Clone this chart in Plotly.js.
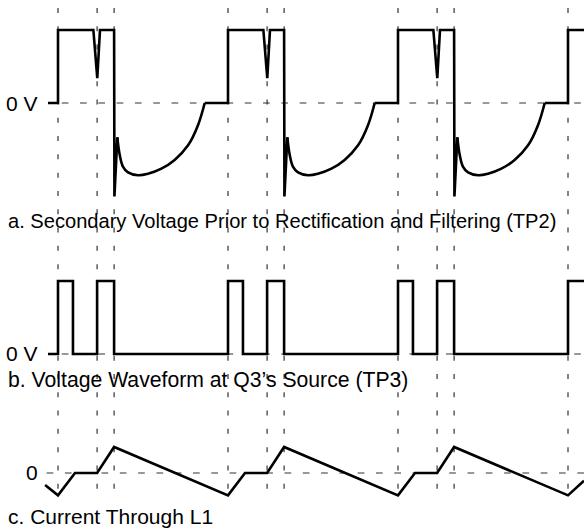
<!DOCTYPE html>
<html>
<head>
<meta charset="utf-8">
<script src="https://cdn.plot.ly/plotly-3.0.1.min.js"></script>
<style>
  html, body { margin: 0; padding: 0; background: #fff; }
  #chart { width: 584px; height: 531px; }
</style>
</head>
<body>
<div id="chart"></div>
<script>
// ---- Data (time in arbitrary units, one switching period = 10) ----
// a. Secondary voltage prior to rectification and filtering (TP2)
//    switching (straight) parts, null = gap where the curved recovery is drawn
var tA = [-0.59, 0, 0, 2.08, 2.31, 2.47, 3.3, 3.32, 3.49, null,
          8.63, 10, 10, 12.08, 12.31, 12.47, 13.3, 13.32, 13.49, null,
          18.63, 20, 20, 22.08, 22.31, 22.47, 23.3, 23.32, 23.49, null,
          28.63, 30, 30, 30.94];
var vA = [0, 0, 1, 1, 0.34, 1, 1, -1.28, -0.47, null,
          0, 0, 1, 1, 0.34, 1, 1, -1.28, -0.47, null,
          0, 0, 1, 1, 0.34, 1, 1, -1.28, -0.47, null,
          0, 0, 1, 1];
//    curved recovery after turn-off
var tAcurve = [3.49, 3.63, 3.82, 4.12, 4.71, 5.29, 6.08, 6.86, 7.65, 8.24, 8.63, null,
               13.49, 13.63, 13.82, 14.12, 14.71, 15.29, 16.08, 16.86, 17.65, 18.24, 18.63, null,
               23.49, 23.63, 23.82, 24.12, 24.71, 25.29, 26.08, 26.86, 27.65, 28.24, 28.63];
var vAcurve = [-0.47, -0.71, -0.87, -0.95, -0.99, -0.97, -0.90, -0.78, -0.58, -0.30, 0, null,
               -0.47, -0.71, -0.87, -0.95, -0.99, -0.97, -0.90, -0.78, -0.58, -0.30, 0, null,
               -0.47, -0.71, -0.87, -0.95, -0.99, -0.97, -0.90, -0.78, -0.58, -0.30, 0];

// b. Voltage waveform at Q3's source (TP3)
var tB = [-0.59, 0, 0, 0.88, 0.88, 2.3, 2.3, 3.3, 3.3,
          10, 10, 10.88, 10.88, 12.3, 12.3, 13.3, 13.3,
          20, 20, 20.88, 20.88, 22.3, 22.3, 23.3, 23.3,
          30, 30, 30.94];
var vB = [0, 0, 1, 1, 0, 0, 1, 1, 0,
          0, 1, 1, 0, 0, 1, 1, 0,
          0, 1, 1, 0, 0, 1, 1, 0,
          0, 1, 1];

// c. Current through L1
var tC = [-0.76, 0, 1.0, 2.3, 3.3, 10, 11.0, 12.3, 13.3, 20, 21.0, 22.3, 23.3, 30, 30.94];
var vC = [-0.46, -0.86, 0, 0, 1.0, -0.86, 0, 0, 1.0, -0.86, 0, 0, 1.0, -0.86, -0.30];

// switching edges (vertical reference lines)
var edges = [0, 2.3, 3.3, 10, 12.3, 13.3, 20, 22.3, 23.3, 30];

// zero reference lines [start, end]
var zeroA = [0.22, 30.94];
var zeroB = [0.22, 30.94];
var zeroC = [-0.67, 30.94];

// texts
var zeroLabels = ['0 V', '0 V', '0'];
var captions = [
  'a. Secondary Voltage Prior to Rectification and Filtering (TP2)',
  'b. Voltage Waveform at Q3\u2019s Source (TP3)',
  'c. Current Through L1'
];

// ---- Chart ----
var sigLine = {color: '#000', width: 2.6};
var curveLine = {color: '#000', width: 2.6, shape: 'spline', smoothing: 1};
var refLine = {color: '#333', width: 1.2, dash: '6.7px,11.6px'};

var traces = [
  {x: zeroA, y: [0, 0], yaxis: 'y', mode: 'lines', line: refLine, hoverinfo: 'skip'},
  {x: zeroB, y: [0, 0], yaxis: 'y2', mode: 'lines', line: refLine, hoverinfo: 'skip'},
  {x: zeroC, y: [0, 0], yaxis: 'y3', mode: 'lines', line: refLine, hoverinfo: 'skip'},
  {x: tA, y: vA, yaxis: 'y', mode: 'lines', line: sigLine, connectgaps: false, hoverinfo: 'skip'},
  {x: tAcurve, y: vAcurve, yaxis: 'y', mode: 'lines', line: curveLine, connectgaps: false, hoverinfo: 'skip'},
  {x: tB, y: vB, yaxis: 'y2', mode: 'lines', line: sigLine, hoverinfo: 'skip'},
  {x: tC, y: vC, yaxis: 'y3', mode: 'lines', line: sigLine, hoverinfo: 'skip'}
];

var shapes = edges.map(function (t) {
  return {type: 'line', xref: 'x', yref: 'paper', x0: t, x1: t, y0: 0.985, y1: 0.0565,
          layer: 'below', line: {color: '#333', width: 1.2, dash: '5px,13.3px'}};
});

var fam = 'Liberation Sans, Arial, Helvetica, sans-serif';
var labelFont = {family: fam, size: 21, color: '#000'};
var capSizes = [20.1, 21.2, 21];
var annotations = [];
['y', 'y2', 'y3'].forEach(function (ax, i) {
  annotations.push({text: zeroLabels[i], xref: 'paper', yref: ax, x: 40 / 584, y: 0,
                    xanchor: 'right', yanchor: 'middle', showarrow: false, font: labelFont});
});
var capY = [0.583, 0.2844, 0.0264];
captions.forEach(function (c, i) {
  annotations.push({text: c, xref: 'paper', yref: 'paper', x: 6 / 584, y: capY[i],
                    xanchor: 'left', yanchor: 'middle', showarrow: false,
                    font: {family: fam, size: capSizes[i], color: '#000'}});
});

var hidden = {visible: false, showgrid: false, zeroline: false, fixedrange: true};

var layout = {
  width: 584, height: 531,
  margin: {l: 0, r: 0, t: 0, b: 0, pad: 0},
  paper_bgcolor: '#fff', plot_bgcolor: '#fff',
  showlegend: false,
  xaxis: Object.assign({range: [-3.4118, 30.9412]}, hidden),
  yaxis: Object.assign({range: [-5.863, 1.411], domain: [0, 1]}, hidden),
  yaxis2: Object.assign({range: [-2.425, 4.849], overlaying: 'y'}, hidden),
  yaxis3: Object.assign({range: [-2.231, 18.192], overlaying: 'y'}, hidden),
  shapes: shapes,
  annotations: annotations
};

Plotly.newPlot('chart', traces, layout, {displayModeBar: false, staticPlot: true});
</script>
</body>
</html>
